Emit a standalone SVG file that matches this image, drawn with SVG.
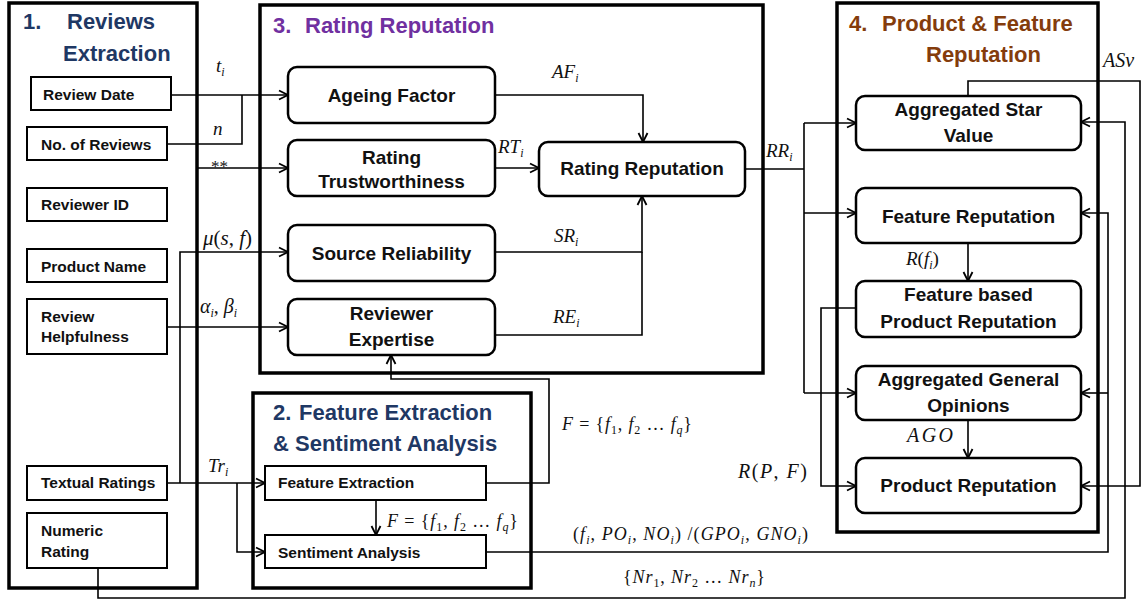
<svg xmlns="http://www.w3.org/2000/svg" width="1148" height="603" viewBox="0 0 1148 603">
<defs>
<marker id="ah" markerWidth="12" markerHeight="12" viewBox="0 0 12 12" refX="11" refY="6" orient="auto" markerUnits="userSpaceOnUse">
<path d="M2,1.5 L11,6 L2,10.5" fill="none" stroke="#000" stroke-width="1.8"/>
</marker>
<style>
.cont{fill:none;stroke:#000;stroke-width:3.5}
.rbox{fill:#fff;stroke:#000;stroke-width:2.5}
.sbox{fill:#fff;stroke:#000;stroke-width:2}
.ln{fill:none;stroke:#000;stroke-width:1.6}
.ar{marker-end:url(#ah)}
.lt{font-family:"Liberation Sans",Arial,sans-serif;font-weight:bold;font-size:15.5px;fill:#111}
.bt{font-family:"Liberation Sans",Arial,sans-serif;font-weight:bold;font-size:19px;fill:#111;text-anchor:middle}
.tt{font-family:"Liberation Sans",Arial,sans-serif;font-weight:bold;font-size:22px}
.m{font-family:"Liberation Serif","Times New Roman",serif;font-style:italic;font-size:19px;fill:#111}
.s{font-size:12px}
.u{font-style:normal}
</style>
</defs>
<rect width="1148" height="603" fill="#fff"/>

<g id="reviews-extraction">
<rect class="cont" x="9" y="3" width="188" height="585"/>
<text class="tt" fill="#1F3864"><tspan x="23" y="29">1.</tspan><tspan x="67" y="29">Reviews</tspan><tspan x="63" y="61">Extraction</tspan></text>
</g>
<g id="rating-reputation-container">
<rect class="cont" x="260" y="5" width="503" height="368"/>
<text class="tt" fill="#7030A0"><tspan x="273" y="33">3.</tspan><tspan x="305" y="33">Rating Reputation</tspan></text>
</g>
<g id="product-feature-reputation">
<rect class="cont" x="837" y="3" width="261" height="529"/>
<text class="tt" fill="#843C0C"><tspan x="849" y="31">4.</tspan><tspan x="882" y="31">Product &amp; Feature</tspan><tspan x="926" y="62">Reputation</tspan></text>
</g>
<g id="feature-sentiment">
<rect class="cont" x="253" y="393" width="278" height="195"/>
<text class="tt" fill="#1F3864"><tspan x="273" y="420">2.</tspan><tspan x="299" y="420">Feature Extraction</tspan><tspan x="273" y="451">&amp; Sentiment Analysis</tspan></text>
</g>

<g id="connectors">
<path class="ln ar" d="M171,95 H288"/>
<path class="ln" d="M167,144 H242 V95"/>
<path class="ln ar" d="M197,168 H288"/>
<path class="ln ar" d="M167,483 H265"/>
<path class="ln ar" d="M180,483 V252 H288"/>
<path class="ln ar" d="M237,483 V552 H265"/>
<path class="ln ar" d="M167,327 H288"/>
<path class="ln ar" d="M495,95 H643 V142"/>
<path class="ln ar" d="M495,168 H539"/>
<path class="ln ar" d="M495,252 H642 V196"/>
<path class="ln" d="M495,335 H642 V252"/>
<path class="ln" d="M745,169 H804"/>
<path class="ln" d="M804,123 V393"/>
<path class="ln ar" d="M804,123 H856"/>
<path class="ln ar" d="M804,213 H856"/>
<path class="ln ar" d="M804,393 H856"/>
<path class="ln ar" d="M968,243 V281"/>
<path class="ln ar" d="M968,420 V458"/>
<path class="ln ar" d="M856,308 H821 V486 H856"/>
<path class="ln ar" d="M486,483 H549 V379 H391 V355"/>
<path class="ln ar" d="M376,500 V535"/>
<path class="ln ar" d="M486,552 H1108 V213 H1081"/>
<path class="ln ar" d="M1108,393 H1081"/>
<path class="ln ar" d="M98,568 V598 H1125 V122 H1081"/>
<path class="ln ar" d="M968,96 V81 H1140 V486 H1081"/>
<text class="m" x="216" y="72">t<tspan class="s" dy="4">i</tspan></text>
<text class="m" x="213" y="135">n</text>
<text class="m u" x="211" y="172" style="font-size:17px">**</text>
<text class="m" x="203" y="245" style="font-size:21px">μ<tspan class="u">(</tspan>s<tspan class="u">, </tspan>f<tspan class="u">)</tspan></text>
<text class="m" x="200" y="313" style="font-size:20px">α<tspan class="s" dy="4">i</tspan><tspan class="u" dy="-4">, </tspan>β<tspan class="s" dy="4">i</tspan></text>
<text class="m" x="552" y="78">AF<tspan class="s" dy="4">i</tspan></text>
<text class="m" x="498" y="153">RT<tspan class="s" dy="4">i</tspan></text>
<text class="m" x="554" y="242">SR<tspan class="s" dy="4">i</tspan></text>
<text class="m" x="553" y="323">RE<tspan class="s" dy="4">i</tspan></text>
<text class="m" x="766" y="157">RR<tspan class="s" dy="4">i</tspan></text>
<text class="m" x="1103" y="67" style="font-size:20px">ASv</text>
<text class="m" x="906" y="265">R<tspan class="u">(</tspan>f<tspan class="s" dy="4">i</tspan><tspan class="u" dy="-4">)</tspan></text>
<text class="m" x="907" y="442" style="font-size:20px" textLength="46" lengthAdjust="spacing">AGO</text>
<text class="m" x="738" y="478" style="font-size:20px" textLength="69" lengthAdjust="spacing">R<tspan class="u">(</tspan>P<tspan class="u">, </tspan>F<tspan class="u">)</tspan></text>
<text class="m" x="562" y="430" style="font-size:18px" textLength="130" lengthAdjust="spacing">F <tspan class="u">= {</tspan>f<tspan class="s u" dy="4">1</tspan><tspan class="u" dy="-4">, </tspan>f<tspan class="s u" dy="4">2</tspan><tspan class="u" dy="-4"> … </tspan>f<tspan class="s" dy="4">q</tspan><tspan class="u" dy="-4">}</tspan></text>
<text class="m" x="387" y="527" style="font-size:18px" textLength="131" lengthAdjust="spacing">F <tspan class="u">= {</tspan>f<tspan class="s u" dy="4">1</tspan><tspan class="u" dy="-4">, </tspan>f<tspan class="s u" dy="4">2</tspan><tspan class="u" dy="-4"> … </tspan>f<tspan class="s" dy="4">q</tspan><tspan class="u" dy="-4">}</tspan></text>
<text class="m" x="573" y="540" style="font-size:18px" textLength="235" lengthAdjust="spacing"><tspan class="u">(</tspan>f<tspan class="s" dy="4">i</tspan><tspan class="u" dy="-4">, </tspan>PO<tspan class="s" dy="4">i</tspan><tspan class="u" dy="-4">, </tspan>NO<tspan class="s" dy="4">i</tspan><tspan class="u" dy="-4">) /(</tspan>GPO<tspan class="s" dy="4">i</tspan><tspan class="u" dy="-4">, </tspan>GNO<tspan class="s" dy="4">i</tspan><tspan class="u" dy="-4">)</tspan></text>
<text class="m" x="623" y="583" style="font-size:18px" textLength="142" lengthAdjust="spacing"><tspan class="u">{</tspan>Nr<tspan class="s u" dy="4">1</tspan><tspan class="u" dy="-4">, </tspan>Nr<tspan class="s u" dy="4">2</tspan><tspan class="u" dy="-4"> … </tspan>Nr<tspan class="s" dy="4">n</tspan><tspan class="u" dy="-4">}</tspan></text>
<text class="m" x="208" y="472">Tr<tspan class="s" dy="4">i</tspan></text>
</g>

<g id="review-date"><rect class="sbox" x="31" y="77" width="140" height="33"/><text class="lt" x="43" y="100">Review Date</text></g>
<g id="no-of-reviews"><rect class="sbox" x="27" y="127" width="140" height="33"/><text class="lt" x="41" y="150">No. of Reviews</text></g>
<g id="reviewer-id"><rect class="sbox" x="27" y="188" width="140" height="33"/><text class="lt" x="41" y="210">Reviewer ID</text></g>
<g id="product-name"><rect class="sbox" x="27" y="249" width="140" height="33"/><text class="lt" x="41" y="272">Product Name</text></g>
<g id="review-helpfulness"><rect class="sbox" x="27" y="299" width="140" height="55"/><text class="lt"><tspan x="41" y="322">Review</tspan><tspan x="41" y="342">Helpfulness</tspan></text></g>
<g id="textual-ratings"><rect class="sbox" x="27" y="466" width="140" height="34"/><text class="lt" x="41" y="488">Textual Ratings</text></g>
<g id="numeric-rating"><rect class="sbox" x="27" y="513" width="140" height="55"/><text class="lt"><tspan x="41" y="536">Numeric</tspan><tspan x="41" y="557">Rating</tspan></text></g>

<g id="ageing-factor"><rect class="rbox" x="288" y="67" width="207" height="56" rx="9"/><text class="bt" x="391.5" y="102">Ageing Factor</text></g>
<g id="rating-trustworthiness"><rect class="rbox" x="288" y="140" width="207" height="56" rx="9"/><text class="bt"><tspan x="391.5" y="164">Rating</tspan><tspan x="391.5" y="188">Trustworthiness</tspan></text></g>
<g id="rating-reputation"><rect class="rbox" x="539" y="142" width="206" height="54" rx="9"/><text class="bt" x="642" y="175">Rating Reputation</text></g>
<g id="source-reliability"><rect class="rbox" x="288" y="225" width="207" height="56" rx="9"/><text class="bt" x="391.5" y="260">Source Reliability</text></g>
<g id="reviewer-expertise"><rect class="rbox" x="288" y="299" width="207" height="56" rx="9"/><text class="bt"><tspan x="391.5" y="320">Reviewer</tspan><tspan x="391.5" y="346">Expertise</tspan></text></g>

<g id="aggregated-star-value"><rect class="rbox" x="856" y="96" width="225" height="54" rx="9"/><text class="bt"><tspan x="968.5" y="116">Aggregated Star</tspan><tspan x="968.5" y="142">Value</tspan></text></g>
<g id="feature-reputation"><rect class="rbox" x="856" y="188" width="225" height="55" rx="9"/><text class="bt" x="968.5" y="223">Feature Reputation</text></g>
<g id="feature-based-product-reputation"><rect class="rbox" x="856" y="281" width="225" height="56" rx="9"/><text class="bt"><tspan x="968.5" y="301">Feature based</tspan><tspan x="968.5" y="328">Product Reputation</tspan></text></g>
<g id="aggregated-general-opinions"><rect class="rbox" x="856" y="366" width="225" height="54" rx="9"/><text class="bt"><tspan x="968.5" y="386">Aggregated General</tspan><tspan x="968.5" y="412">Opinions</tspan></text></g>
<g id="product-reputation"><rect class="rbox" x="856" y="458" width="225" height="55" rx="9"/><text class="bt" x="968.5" y="492">Product Reputation</text></g>

<g id="feature-extraction"><rect class="sbox" x="265" y="466" width="221" height="34"/><text class="lt" x="278" y="488">Feature Extraction</text></g>
<g id="sentiment-analysis"><rect class="sbox" x="265" y="535" width="221" height="33"/><text class="lt" x="278" y="558">Sentiment Analysis</text></g>
</svg>
